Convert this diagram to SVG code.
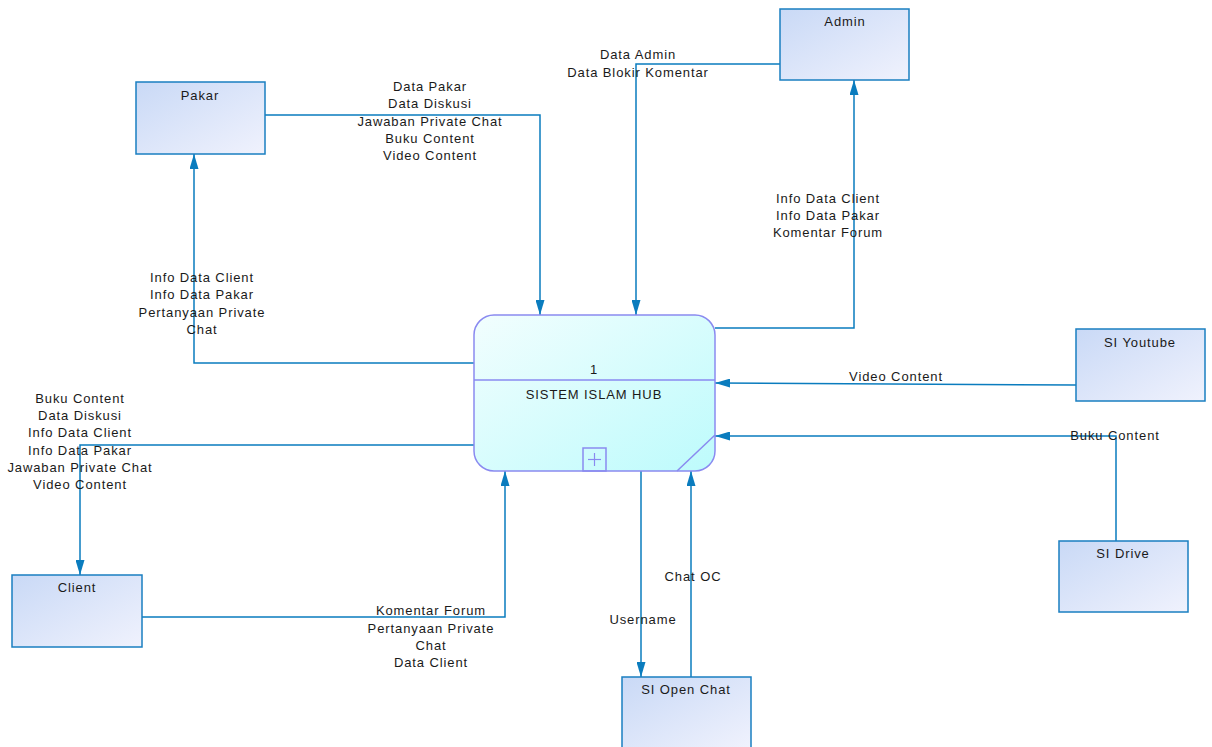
<svg xmlns="http://www.w3.org/2000/svg" width="1212" height="747" viewBox="0 0 1212 747">
<style>
text{font-family:"Liberation Sans",Arial,sans-serif;font-size:13px;fill:#1a1a1a;letter-spacing:0.9px;text-anchor:middle}
.ent{fill:url(#gEnt);stroke:#1a7fc1;stroke-width:1.5}
.flow{fill:none;stroke:#0a7cbe;stroke-width:1.5}
.proc{fill:url(#gProc);stroke:#8a8af0;stroke-width:1.5}
.pl{fill:none;stroke:#8a8af0;stroke-width:1.5}
</style>
<defs>
<linearGradient id="gEnt" x1="0" y1="0" x2="1" y2="1">
<stop offset="0" stop-color="#c9d9f6"/>
<stop offset="1" stop-color="#f0f2fd"/>
</linearGradient>
<linearGradient id="gProc" x1="0" y1="0" x2="1" y2="1">
<stop offset="0" stop-color="#f2fefe"/>
<stop offset="1" stop-color="#bdfbfc"/>
</linearGradient>
<marker id="arr" viewBox="0 0 15 9" refX="15" refY="4.5" markerWidth="15" markerHeight="9" orient="auto" markerUnits="userSpaceOnUse">
<path d="M0,0 L15,4.5 L0,9 Z" fill="#0a7cbe"/>
</marker>
</defs>
<rect width="1212" height="747" fill="#ffffff"/>
<g id="connectors">
<polyline class="flow" points="265,115 540,115 540,315" marker-end="url(#arr)"/>
<polyline class="flow" points="474,363 194,363 194,154" marker-end="url(#arr)"/>
<polyline class="flow" points="780,64 636,64 636,315" marker-end="url(#arr)"/>
<polyline class="flow" points="715,328 854,328 854,80" marker-end="url(#arr)"/>
<polyline class="flow" points="1076,385 715,383" marker-end="url(#arr)"/>
<polyline class="flow" points="1116,541 1116,436 715,436" marker-end="url(#arr)"/>
<polyline class="flow" points="474,445 80,445 80,575" marker-end="url(#arr)"/>
<polyline class="flow" points="142,617 505,617 505,471" marker-end="url(#arr)"/>
<polyline class="flow" points="641,471 641,677" marker-end="url(#arr)"/>
<polyline class="flow" points="691,677 691,471" marker-end="url(#arr)"/>
<text x="430" y="90.5">Data Pakar</text>
<text x="430" y="107.5">Data Diskusi</text>
<text x="430" y="125.5">Jawaban Private Chat</text>
<text x="430" y="142.5">Buku Content</text>
<text x="430" y="159.5">Video Content</text>
<text x="202" y="281.5">Info Data Client</text>
<text x="202" y="298.5">Info Data Pakar</text>
<text x="202" y="316.5">Pertanyaan Private</text>
<text x="202" y="333.5">Chat</text>
<text x="638" y="58.5">Data Admin</text>
<text x="638" y="76.5">Data Blokir Komentar</text>
<text x="828" y="202.5">Info Data Client</text>
<text x="828" y="219.5">Info Data Pakar</text>
<text x="828" y="236.5">Komentar Forum</text>
<text x="896" y="380.5">Video Content</text>
<text x="1115" y="439.5">Buku Content</text>
<text x="80" y="402.5">Buku Content</text>
<text x="80" y="419.5">Data Diskusi</text>
<text x="80" y="436.5">Info Data Client</text>
<text x="80" y="454.5">Info Data Pakar</text>
<text x="80" y="471.5">Jawaban Private Chat</text>
<text x="80" y="488.5">Video Content</text>
<text x="431" y="614.5">Komentar Forum</text>
<text x="431" y="632.5">Pertanyaan Private</text>
<text x="431" y="649.5">Chat</text>
<text x="431" y="666.5">Data Client</text>
<text x="643" y="623.5">Username</text>
<text x="693" y="580.5">Chat OC</text>
</g>
<g id="process">
<rect class="proc" x="474" y="315" width="241" height="156" rx="20" ry="20"/>
<line class="pl" x1="677" y1="471" x2="715" y2="435"/>
<line class="pl" x1="474" y1="380" x2="715" y2="380"/>
<rect class="pl" x="583" y="448" width="23" height="23"/>
<line x1="594.5" y1="453" x2="594.5" y2="466" stroke="#8a8af0" stroke-width="1.2"/>
<line x1="588" y1="459.5" x2="601" y2="459.5" stroke="#8a8af0" stroke-width="1.2"/>
<text x="594" y="373.5">1</text>
<text x="594" y="398.5">SISTEM ISLAM HUB</text>
</g>
<g id="pakar">
<rect class="ent" x="136" y="82" width="129" height="72"/>
<text x="200" y="100">Pakar</text>
</g>
<g id="admin">
<rect class="ent" x="780" y="9" width="129" height="71"/>
<text x="845" y="26">Admin</text>
</g>
<g id="si-youtube">
<rect class="ent" x="1076" y="329" width="129" height="72"/>
<text x="1140" y="347">SI Youtube</text>
</g>
<g id="si-drive">
<rect class="ent" x="1059" y="541" width="129" height="71"/>
<text x="1123" y="558">SI Drive</text>
</g>
<g id="client">
<rect class="ent" x="12" y="575" width="130" height="72"/>
<text x="77" y="592">Client</text>
</g>
<g id="si-open-chat">
<rect class="ent" x="622" y="677" width="129" height="72"/>
<text x="686" y="694">SI Open Chat</text>
</g>
</svg>
